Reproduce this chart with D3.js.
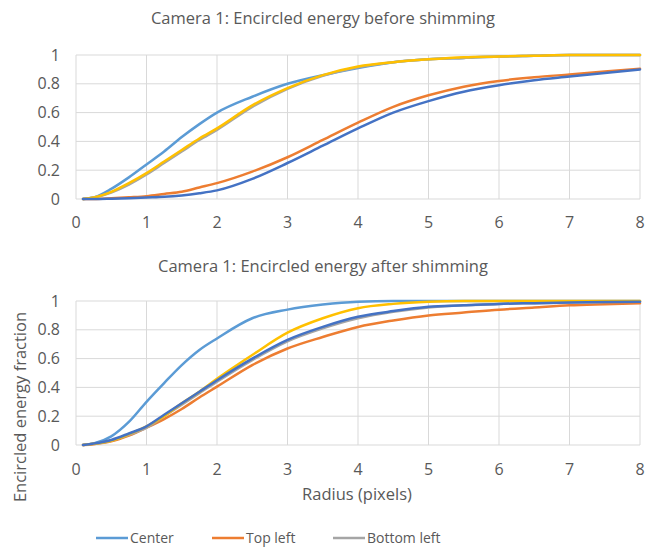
<!DOCTYPE html>
<html><head><meta charset="utf-8">
<script src="https://cdn.jsdelivr.net/npm/d3@7"></script>
<style>
html,body{margin:0;padding:0;background:#fff;overflow:hidden;}
svg text{font-family:"Open Sans",sans-serif;fill:#595959;}
</style></head>
<body><svg id="chart" width="647" height="548"></svg>
<script>
// ---- data ----
const radius = [0.1,0.25,0.5,0.75,1,1.25,1.5,1.75,2,2.5,3,3.5,4,4.5,5,5.5,6,6.5,7,7.5,8];
const seriesNames = ["Center","Top left","Bottom left","Top right","Bottom right"];
const seriesColors = ["#5B9BD5","#ED7D31","#A5A5A5","#FFC000","#4472C4"];
const legendNames = ["Center","Top left","Bottom left"];
const xTicks = [0,1,2,3,4,5,6,7,8];
const yTicks = [0,0.2,0.4,0.6,0.8,1];
const yTickLabels = ["0","0.2","0.4","0.6","0.8","1"];
const titles = ["Camera 1: Encircled energy before shimming","Camera 1: Encircled energy after shimming"];
const xAxisTitle = "Radius (pixels)";
const yAxisTitle = "Encircled energy fraction";

// before shimming
const beforeCenter     = [0,0.01,0.07,0.15,0.24,0.33,0.43,0.52,0.6,0.71,0.8,0.86,0.91,0.95,0.97,0.98,0.99,0.995,1,1,1];
const beforeTopLeft    = [0,0,0.005,0.012,0.02,0.035,0.05,0.08,0.11,0.19,0.29,0.41,0.53,0.64,0.72,0.78,0.82,0.845,0.865,0.885,0.905];
const beforeBottomLeft = [0,0.01,0.045,0.1,0.17,0.25,0.33,0.41,0.48,0.64,0.765,0.855,0.915,0.95,0.97,0.98,0.99,0.995,1,1,1];
const beforeTopRight   = [0,0.01,0.05,0.11,0.18,0.26,0.34,0.42,0.49,0.65,0.77,0.86,0.92,0.95,0.97,0.985,0.99,0.995,1,1,1];
const beforeBottomRight= [0,0,0.002,0.005,0.01,0.015,0.025,0.04,0.06,0.14,0.25,0.37,0.49,0.6,0.68,0.745,0.79,0.825,0.85,0.875,0.9];

// after shimming
const afterCenter      = [0,0.01,0.06,0.16,0.3,0.43,0.555,0.66,0.74,0.88,0.94,0.975,0.995,1,1,1,1,1,1,1,1];
const afterTopLeft     = [0,0.006,0.025,0.065,0.12,0.18,0.25,0.33,0.405,0.555,0.67,0.75,0.82,0.865,0.9,0.92,0.94,0.955,0.97,0.978,0.985];
const afterBottomLeft  = [0,0.008,0.03,0.07,0.12,0.2,0.28,0.36,0.44,0.59,0.72,0.81,0.88,0.925,0.955,0.97,0.98,0.985,0.99,0.993,0.995];
const afterTopRight    = [0,0.008,0.03,0.075,0.13,0.2,0.29,0.37,0.46,0.625,0.78,0.88,0.95,0.98,0.995,1,1,1,1,1,1];
const afterBottomRight = [0,0.01,0.035,0.08,0.13,0.21,0.29,0.37,0.45,0.6,0.73,0.82,0.89,0.93,0.96,0.97,0.98,0.985,0.99,0.993,0.995];

const panels = [
  {title:titles[0], series:[beforeCenter,beforeTopLeft,beforeBottomLeft,beforeTopRight,beforeBottomRight], top:55, bottom:199, titleY:24, tickY:228},
  {title:titles[1], series:[afterCenter,afterTopLeft,afterBottomLeft,afterTopRight,afterBottomRight], top:301, bottom:445, titleY:272, tickY:475}
];

const svg = d3.select("#chart");
const left = 76, right = 640;
const x = d3.scaleLinear().domain([0,8]).range([left,right]);

panels.forEach(p => {
  const y = d3.scaleLinear().domain([0,1]).range([p.bottom,p.top]);
  const g = svg.append("g");
  g.append("g").selectAll("line").data(yTicks).join("line")
    .attr("x1",left).attr("x2",right).attr("y1",d=>y(d)).attr("y2",d=>y(d))
    .attr("stroke","#d9d9d9").attr("stroke-width",1);
  g.append("g").selectAll("line").data(xTicks).join("line")
    .attr("y1",p.top).attr("y2",p.bottom).attr("x1",d=>x(d)).attr("x2",d=>x(d))
    .attr("stroke","#d9d9d9").attr("stroke-width",1);
  g.append("g").selectAll("text").data(yTicks).join("text")
    .attr("x",60).attr("y",d=>y(d)).attr("dy","0.35em").attr("text-anchor","end")
    .attr("font-size",16).text((d,i)=>yTickLabels[i]);
  g.append("g").selectAll("text").data(xTicks).join("text")
    .attr("x",d=>x(d)).attr("y",p.tickY).attr("text-anchor","middle")
    .attr("font-size",16).text(d=>d);
  g.append("text").attr("x",323).attr("y",p.titleY).attr("text-anchor","middle")
    .attr("font-size",16.5).text(p.title);
  const line = d3.line().x((d,i)=>x(radius[i])).y(d=>y(d)).curve(d3.curveMonotoneX);
  p.series.forEach((s,k) => {
    g.append("path").datum(s).attr("d",line).attr("fill","none")
      .attr("stroke",seriesColors[k]).attr("stroke-width",2.5)
      .attr("stroke-linejoin","round").attr("stroke-linecap","round");
  });
});

svg.append("text").attr("x",357).attr("y",500).attr("text-anchor","middle")
  .attr("font-size",16.5).text(xAxisTitle);
svg.append("text").attr("transform","translate(26,407) rotate(-90)")
  .attr("text-anchor","middle").attr("font-size",16.5).text(yAxisTitle);

const legendX = [96,212,333];
const lg = svg.append("g").selectAll("g").data(legendNames).join("g")
  .attr("transform",(d,i)=>`translate(${legendX[i]},538)`);
lg.append("line").attr("x1",0).attr("x2",32).attr("y1",0).attr("y2",0)
  .attr("stroke",(d,i)=>seriesColors[i]).attr("stroke-width",2.5);
lg.append("text").attr("x",34).attr("dy","0.35em").attr("font-size",14).text(d=>d);
</script></body></html>
